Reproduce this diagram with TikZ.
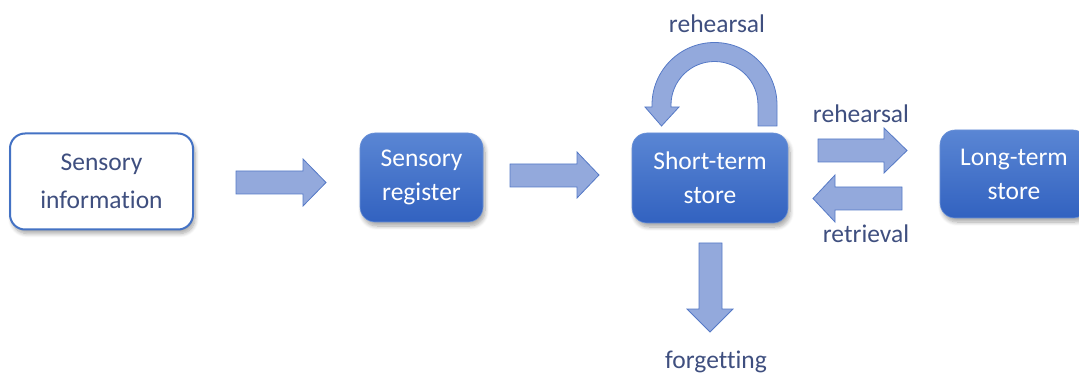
\documentclass[tikz,border=0pt]{standalone}
\usepackage{fontspec}
\setmainfont{Carlito}[Ligatures={NoCommon}]
\usetikzlibrary{shadows.blur}
\definecolor{bxtop}{HTML}{5A86D4}
\definecolor{bxbot}{HTML}{3262C0}
\definecolor{bxline}{HTML}{4472C4}
\definecolor{arfill}{HTML}{93A9DC}
\definecolor{arline}{HTML}{5579C6}
\definecolor{lbl}{HTML}{3F4F7F}
\tikzset{
  boxshadow/.style={blur shadow={shadow xshift=2pt,shadow yshift=-4pt,shadow blur steps=8,shadow blur radius=4pt,shadow opacity=35}},
  filledbox/.style={rectangle,rounded corners=15pt,top color=bxtop,bottom color=bxbot,draw=bxtop!90!white,line width=0.6pt,
     text=white,align=center,font=\fontsize{25.5}{34}\selectfont,boxshadow,inner sep=0pt},
  whitebox/.style={rectangle,rounded corners=15pt,fill=white,draw=bxline,line width=2pt,
     text=lbl,align=center,font=\fontsize{25.5}{38}\selectfont,boxshadow,inner sep=0pt},
  blockarrow/.style={fill=arfill,draw=arline,line width=0.8pt,line join=miter},
  lab/.style={text=lbl,font=\fontsize{25.5}{30}\selectfont,inner sep=0pt,anchor=base}
}
\begin{document}
\begin{tikzpicture}[x=1pt,y=-1pt]
\useasboundingbox (0,0) rectangle (1079,374);
% boxes
\node[whitebox,minimum width=183pt,minimum height=96pt] (sinfo) at (101.5,181.5) {Sensory\\information};
\node[filledbox,minimum width=123pt,minimum height=89pt] (sreg) at (421.5,177.5) {Sensory\\register};
\node[filledbox,minimum width=156pt,minimum height=90pt] (sts) at (710,178) {Short-term\\store};
\node[filledbox,minimum width=148pt,minimum height=88pt] (lts) at (1014,174) {Long-term\\store};
% block arrows
\draw[blockarrow] (236,171) -- (303,171) -- (303,159) -- (326,182.5) -- (303,206) -- (303,194) -- (236,194) -- cycle;
\draw[blockarrow] (510,164) -- (577,164) -- (577,152) -- (599,175) -- (577,198) -- (577,187) -- (510,187) -- cycle;
\draw[blockarrow] (818,139) -- (884,139) -- (884,128) -- (907,150.5) -- (884,173) -- (884,162) -- (818,162) -- cycle;
\draw[blockarrow] (902,187) -- (835,187) -- (835,175) -- (813,198.5) -- (835,222) -- (835,210) -- (902,210) -- cycle;
\draw[blockarrow] (699,243) -- (699,309) -- (687,309) -- (710,332) -- (733,309) -- (722,309) -- (722,243) -- cycle;
% curved rehearsal arrow
\draw[blockarrow] (777,126) -- (777,105) arc[start angle=0,end angle=-180,radius=62.5]
  -- (652,107) -- (645,107) -- (661.5,126) -- (679,107) -- (671,107) -- (671,105)
  arc[start angle=-180,end angle=0,radius=43.5] -- (758,126) -- cycle;
% labels
\node[lab] (lrehtop) at (717,33) {rehearsal};
\node[lab] (lrehr) at (861,123) {rehearsal};
\node[lab] (lret) at (866,243) {retrieval};
\node[lab] (lforg) at (716,368) {forgetting};
\end{tikzpicture}
\end{document}
